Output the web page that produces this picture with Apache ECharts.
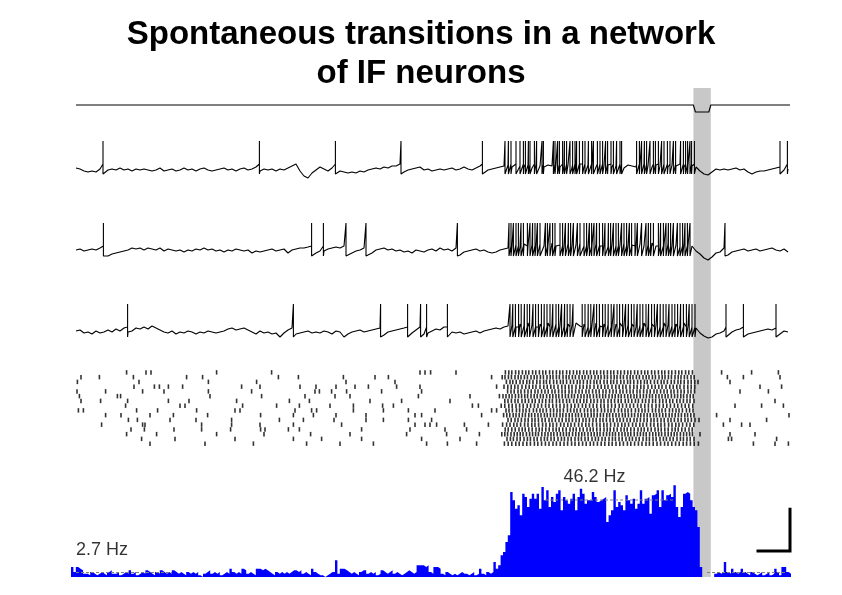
<!DOCTYPE html>
<html><head><meta charset="utf-8">
<script src="https://cdn.jsdelivr.net/npm/echarts/dist/echarts.min.js"></script>
<style>html,body{margin:0;padding:0;background:#fff}#c{width:842px;height:595px}</style>
</head><body><div id="c"></div>
<script>
// ---------- data (time in ms, membrane potential in mV, rate in Hz) ----------
const timeRange = [0, 3570];
const stimOn = 3087, stimOff = 3174;
const stimT = [0, 3087, 3097, 3164, 3174, 3570];
const stimV = [0, 0, -1, -1, 0, 0];

const stepMs = 20; // sampling step of the sub-threshold traces
const trace1Base = [
-54,-56,-60,-62,-60,-62,-56,-62,-58,-56,
-58,-54,-58,-56,-60,-56,-58,-56,-58,-60,
-58,-54,-60,-58,-56,-60,-58,-54,-58,-56,
-60,-56,-54,-58,-60,-58,-56,-54,-58,-56,
-60,-56,-54,-58,-56,-52,-60,-56,-58,-56,
-60,-56,-58,-54,-50,-46,-60,-70,-74,-64,
-58,-52,-56,-60,-54,-62,-60,-62,-64,-62,
-64,-60,-62,-58,-56,-54,-56,-52,-54,-50,
-50,-46,-62,-58,-56,-54,-52,-58,-56,-60,
-58,-56,-58,-56,-54,-58,-56,-52,-56,-58,
-54,-50,-62,-58,-56,-54,-52,-50,-48,-52,
-46,-50,-52,-48,-54,-46,-50,-52,-48,-50,
-46,-52,-50,-48,-54,-50,-46,-52,-48,-50,
-52,-46,-50,-48,-52,-50,-46,-54,-48,-50,
-52,-48,-46,-50,-52,-48,-50,-46,-52,-48,
-50,-46,-52,-48,-50,-52,-60,-66,-68,-62,
-56,-58,-56,-58,-56,-54,-58,-56,-62,-66,
-62,-60,-60,-58,-56,-54,-52,-58,-56];
const trace1Spikes = [135,917,1297,1625,2032,
2145,2162,2175,2200,2220,2237,2247,2262,2270,2292,2303,2330,2337,2387,2395,2408,2417,2433,2442,2453,
2470,2483,2495,2503,2517,2533,2545,2562,2578,2587,2607,2620,2633,2648,2658,2675,2687,2703,2720,2728,
2803,2817,2828,2842,2853,2870,2887,2897,2912,2928,2940,2957,2970,2987,2998,3023,3037,3048,3058,3070,
3078,3092,3520,3557];

const trace2Base = [
-54,-52,-56,-54,-52,-54,-50,-68,-66,-62,
-60,-58,-56,-54,-50,-52,-50,-54,-50,-52,
-54,-50,-56,-52,-54,-56,-54,-58,-54,-56,
-52,-54,-50,-54,-52,-56,-54,-58,-54,-56,
-52,-54,-56,-54,-60,-56,-58,-56,-54,-52,
-56,-54,-52,-60,-54,-52,-50,-50,-48,-62,
-60,-56,-56,-52,-50,-48,-50,-46,-64,-60,
-56,-54,-50,-68,-60,-54,-52,-50,-54,-52,
-56,-54,-58,-56,-60,-54,-56,-58,-54,-52,
-56,-50,-54,-52,-56,-50,-64,-58,-56,-54,
-52,-56,-54,-58,-60,-58,-54,-52,-50,-46,
-44,-48,-42,-46,-44,-48,-42,-46,-44,-40,
-46,-44,-48,-42,-46,-44,-40,-46,-48,-44,
-42,-46,-44,-48,-42,-46,-44,-40,-46,-44,
-48,-42,-46,-44,-40,-46,-48,-44,-42,-46,
-44,-48,-42,-46,-46,-56,-62,-70,-74,-68,
-60,-58,-50,-64,-58,-56,-54,-52,-56,-54,
-52,-56,-54,-52,-50,-54,-56,-52,-58];
const trace2Spikes = [137,1178,1237,1350,1450,1907,
2165,2175,2187,2200,2212,2225,2237,2257,2270,2283,2295,2307,2320,2347,2357,2370,2383,2395,2420,2433,
2447,2462,2473,2487,2507,2520,2540,2553,2567,2578,2590,2603,2617,2633,2645,2662,2673,2687,2700,2712,
2728,2740,2753,2767,2778,2795,2807,2828,2850,2862,2873,2887,2912,2923,2937,2950,2962,2973,2987,3007,
3020,3033,3045,3057,3070,3245];

const trace3Base = [
-54,-52,-58,-56,-60,-54,-58,-56,-52,-56,
-50,-54,-48,-56,-54,-48,-50,-46,-50,-44,
-48,-52,-56,-58,-54,-60,-56,-58,-54,-56,
-60,-56,-58,-54,-56,-58,-56,-54,-50,-48,
-52,-50,-48,-52,-56,-60,-54,-58,-56,-60,
-58,-66,-58,-52,-48,-60,-58,-56,-54,-58,
-56,-58,-54,-56,-60,-54,-56,-66,-60,-56,
-54,-52,-56,-54,-52,-50,-48,-62,-56,-54,
-52,-50,-48,-68,-58,-52,-46,-60,-58,-54,
-50,-52,-46,-62,-56,-58,-56,-60,-58,-56,
-54,-58,-54,-52,-50,-48,-50,-46,-44,-42,
-46,-40,-44,-38,-42,-46,-40,-44,-38,-42,
-40,-44,-46,-40,-42,-38,-44,-40,-46,-42,
-38,-44,-40,-42,-46,-40,-38,-44,-42,-40,
-46,-42,-38,-44,-40,-42,-46,-38,-42,-44,
-40,-42,-38,-44,-46,-48,-58,-64,-68,-66,
-60,-58,-54,-64,-56,-52,-50,-62,-60,-58,
-56,-54,-52,-50,-52,-48,-60,-54,-56];
const trace3Spikes = [258,1087,1523,1658,1723,1753,1857,
2170,2184,2197,2213,2226,2242,2256,2268,2285,2298,2312,2327,2341,2355,2370,2384,2400,2413,2428,2443,
2456,2470,2485,2531,2545,2561,2574,2590,2603,2617,2633,2646,2661,2676,2690,2705,2718,2733,2748,2762,
2777,2790,2806,2820,2834,2850,2863,2878,2892,2907,2921,2936,2950,2965,2980,2994,3008,3023,3037,3052,
3066,3080,3095,3250,3337,3500];

const spikeThr = -46, spikePeak = 0, spikeReset = -66;

// raster: spike times (ms) for each of 16 neurons, top to bottom
const rasterSpikes = [
[253,350,375,703,978,1720,1745,1773,1900,2147,2164,2179,2198,2214,2232,2249,2264,2283,2299,2317,2334,2349,2368,2384,2402,2419,2434,2453,2469,2487,2504,2519,2538,2554,2572,2589,2604,2623,2639,2657,2674,2689,2708,2724,2742,2759,2774,2793,2809,2827,2844,2859,2878,2894,2912,2929,2944,2963,2979,2997,3014,3029,3048,3064,3082,3228,3378,3512],
[25,117,287,553,633,1012,1112,1337,1495,1562,2078,2131,2145,2162,2177,2195,2211,2225,2242,2257,2275,2291,2305,2322,2337,2355,2371,2385,2402,2417,2435,2451,2465,2482,2497,2515,2531,2545,2562,2577,2595,2611,2625,2642,2657,2675,2691,2705,2722,2737,2755,2771,2785,2802,2817,2835,2851,2865,2882,2897,2915,2931,2945,2962,2977,2995,3011,3025,3042,3057,3075,3091,3257,3337,3520],
[7,315,662,903,1350,1595,2152,2170,2184,2201,2220,2236,2254,2268,2285,2304,2320,2338,2352,2369,2388,2404,2422,2436,2453,2472,2488,2506,2520,2537,2556,2572,2590,2604,2621,2640,2656,2674,2688,2705,2724,2740,2758,2772,2789,2808,2824,2842,2856,2873,2892,2908,2926,2940,2957,2976,2992,3010,3024,3041,3060,3076,3094,3110,3270],
[290,392,417,462,533,828,920,1120,1200,1300,1395,1462,1603,1720,2103,2140,2159,2176,2194,2210,2230,2249,2266,2284,2300,2320,2339,2356,2374,2390,2410,2429,2446,2464,2480,2500,2519,2536,2554,2570,2590,2609,2626,2644,2660,2680,2699,2716,2734,2750,2770,2789,2806,2824,2840,2860,2879,2896,2914,2930,2950,2969,2986,3004,3020,3040,3059,3076,3094,3420,3528],
[5,148,333,440,662,878,1195,1217,1278,1353,1528,1728,2158,2175,2191,2210,2225,2243,2260,2276,2295,2310,2328,2345,2361,2380,2395,2413,2430,2446,2465,2480,2498,2515,2531,2550,2565,2583,2600,2616,2635,2650,2668,2685,2701,2720,2735,2753,2770,2786,2805,2820,2838,2855,2871,2890,2905,2923,2940,2956,2975,2990,3008,3025,3041,3060,3075,3093,3320,3462],
[17,207,223,670,928,1145,1295,1370,1712,1970,2117,2135,2150,2166,2180,2197,2213,2228,2244,2258,2275,2291,2306,2322,2336,2353,2369,2384,2400,2414,2431,2447,2462,2478,2492,2509,2525,2540,2556,2570,2587,2603,2618,2634,2648,2665,2681,2696,2712,2726,2743,2759,2774,2790,2804,2821,2837,2852,2868,2882,2899,2915,2930,2946,2960,2977,2993,3008,3024,3038,3055,3071,3086],
[25,123,258,462,565,803,1067,1167,1470,1628,1870,2144,2160,2177,2195,2210,2230,2246,2263,2281,2296,2316,2332,2349,2367,2382,2402,2418,2435,2453,2468,2488,2504,2521,2539,2554,2574,2590,2607,2625,2640,2660,2676,2693,2711,2726,2746,2762,2779,2797,2812,2832,2848,2865,2883,2898,2918,2934,2951,2969,2984,3004,3020,3037,3055,3070,3090,3495],
[248,520,545,833,1003,1117,1270,1387,1533,1587,1982,2012,2126,2144,2164,2181,2200,2218,2236,2256,2273,2292,2310,2328,2348,2365,2384,2402,2420,2440,2457,2476,2494,2512,2532,2549,2568,2586,2604,2624,2641,2660,2678,2696,2716,2733,2752,2770,2788,2808,2825,2844,2862,2880,2900,2917,2936,2954,2972,2992,3009,3028,3046,3064,3084,3295,3428,3537],
[12,37,303,408,603,795,820,1095,1178,1203,1387,1537,1662,1795,2078,2103,2150,2165,2182,2202,2218,2235,2250,2267,2287,2303,2320,2335,2352,2372,2388,2405,2420,2437,2457,2473,2490,2505,2522,2542,2558,2575,2590,2607,2627,2643,2660,2675,2692,2712,2728,2745,2760,2777,2797,2813,2830,2845,2862,2882,2898,2915,2930,2947,2967,2983,3000,3015,3032,3052,3068,3085],
[148,225,370,487,658,923,1087,1187,1300,1450,1695,1728,2028,2138,2154,2169,2186,2200,2216,2232,2247,2264,2278,2294,2310,2325,2342,2356,2372,2388,2403,2420,2434,2450,2466,2481,2498,2512,2528,2544,2559,2576,2590,2606,2622,2637,2654,2668,2684,2700,2715,2732,2746,2762,2778,2793,2810,2824,2840,2856,2871,2888,2902,2918,2934,2949,2966,2980,2996,3012,3027,3044,3058,3074,3090,3203,3565],
[262,307,470,600,778,1017,1137,1290,1450,1537,1662,1778,2160,2176,2195,2210,2227,2245,2261,2280,2295,2312,2330,2346,2365,2380,2397,2415,2431,2450,2465,2482,2500,2516,2535,2550,2567,2585,2601,2620,2635,2652,2670,2686,2705,2720,2737,2755,2771,2790,2805,2822,2840,2856,2875,2890,2907,2925,2941,2960,2975,2992,3010,3026,3045,3060,3077,3095,3115,3270,3453],
[128,333,345,628,778,920,1087,1328,1695,1745,1770,1803,1942,2062,2133,2153,2170,2189,2205,2223,2243,2260,2279,2295,2313,2333,2350,2369,2385,2403,2423,2440,2459,2475,2493,2513,2530,2549,2565,2583,2603,2620,2639,2655,2673,2693,2710,2729,2745,2763,2783,2800,2819,2835,2853,2873,2890,2909,2925,2943,2963,2980,2999,3015,3033,3053,3070,3089,3237,3328,3370],
[275,342,490,628,773,923,945,1062,1117,1428,1670,1845,1953,2146,2161,2179,2196,2215,2231,2246,2264,2281,2300,2316,2331,2349,2366,2385,2401,2416,2434,2451,2470,2486,2501,2519,2536,2555,2571,2586,2604,2621,2640,2656,2671,2689,2706,2725,2741,2756,2774,2791,2810,2826,2841,2859,2876,2895,2911,2926,2944,2961,2980,2996,3011,3029,3046,3065,3081],
[253,403,703,940,1173,1370,1653,1853,2017,2129,2144,2158,2175,2191,2206,2221,2235,2252,2268,2283,2298,2312,2329,2345,2360,2375,2389,2406,2422,2437,2452,2466,2483,2499,2514,2529,2543,2560,2576,2591,2606,2620,2637,2653,2668,2683,2697,2714,2730,2745,2760,2774,2791,2807,2822,2837,2851,2868,2884,2899,2914,2928,2945,2961,2976,2991,3005,3022,3038,3053,3068,3082,3120,3270,3395],
[328,495,795,1087,1228,1428,1728,1920,2155,2172,2187,2205,2221,2240,2257,2272,2290,2306,2325,2342,2357,2375,2391,2410,2427,2442,2460,2476,2495,2512,2527,2545,2561,2580,2597,2612,2630,2646,2665,2682,2697,2715,2731,2750,2767,2782,2800,2816,2835,2852,2867,2885,2901,2920,2937,2952,2970,2986,3005,3022,3037,3055,3071,3090,3262,3278,3503],
[370,645,887,1153,1320,1487,1753,1857,2003,2142,2161,2179,2199,2216,2235,2254,2272,2292,2309,2328,2347,2365,2385,2402,2421,2440,2458,2478,2495,2514,2533,2551,2571,2588,2607,2626,2644,2664,2681,2700,2719,2737,2757,2774,2793,2812,2830,2850,2867,2886,2905,2923,2943,2960,2979,2998,3016,3036,3053,3072,3091,3112,3387,3495,3562]
];

// population rate histogram (Hz), 12 ms bins starting at -25 ms
const histStart = -25, histBinMs = 12;
const histRate = [
6,3,6,5,4,2,2,1,3,2, 1,2,3,2,1,3,4,2,2,3, 1,2,3,2,4,2,3,1,2,3, 2,4,3,2,1,3,2,4,3,2,
3,2,4,3,2,3,2,1,3,2, 3,2,3,1,0,2,3,4,2,3, 2,3,1,2,3,2,5,3,2,3, 2,5,4,2,3,2,1,5,5,4,
5,4,3,2,1,3,2,3,2,3, 2,3,4,4,3,4,2,3,2,1, 5,3,2,1,1,0,1,2,3,3, 10,2,5,5,4,3,2,3,2,1,
3,4,4,2,3,2,3,1,2,4, 3,2,3,4,2,3,2,1,2,3, 4,3,2,3,7,7,7,6,7,3, 2,6,6,5,2,1,3,2,1,2,
1,2,3,2,2,1,2,3,1,2, 5,2,1,3,2,3,
9,5,7,13,15,21,25,
51,46,41,43,37,50,48,42,47,50, 47,50,41,54,46,52,42,48,45,50, 52,40,48,46,44,47,50,40,48,53,
50,44,46,46,51,48,45,46,47,48, 33,37,40,52,42,45,43,40,49,46, 44,47,41,44,52,44,47,48,38,49,
50,52,42,52,46,49,50,48,55,42, 36,42,50,51,50,46,42,40,30,6,
0,0,0,0,0,
2,3,2,3,9,3,2,5,3,2, 3,5,3,2,1,3,2,1,2,3, 1,2,3,1,2,5,3,1,6,6,3,2];

// mean-rate reference levels
const rateLevels = [2.7, 46.2, 2.7];
const rateFrom = [0, 2345, 3155];
const rateTo = [480, 2985, 3555];
const rateLabels = ['2.7 Hz', '46.2 Hz'];
const rateLabelT = [0, 2592];
const rateLabelHz = [16.2, 60];

// scale bar: 160 ms x 25 Hz
const scaleMs = 160, scaleHz = 25, scaleEndT = 3570, scaleBaseHz = 15.6;

// ---------- build ----------
function buildTrace(base, spikes) {
  const pts = base.map((v, i) => ({t: i * stepMs, o: 0, v}));
  spikes.forEach(t => {
    pts.push({t, o: 1, v: spikeThr}, {t, o: 2, v: spikePeak}, {t, o: 3, v: spikeReset});
  });
  pts.sort((a, b) => a.t - b.t || a.o - b.o);
  return pts.map(p => [p.t, p.v]);
}
const rasterData = [];
rasterSpikes.forEach((row, r) => row.forEach(t => rasterData.push([t, r])));
const histData = histRate.map((v, i) => [histStart + i * histBinMs, v]);
histData.push([histStart + histRate.length * histBinMs, histRate[histRate.length - 1]]);

const FONT = '"Liberation Sans", Arial, sans-serif';
const L = 76, W = 714;
const grids = [
  {left: L, width: W, top: 88, height: 489},   // stimulus band
  {left: L, width: W, top: 105, height: 7},    // stimulus
  {left: L, width: W, top: 141, height: 40},   // trace 1
  {left: L, width: W, top: 223, height: 40},   // trace 2
  {left: L, width: W, top: 304, height: 40},   // trace 3
  {left: L, width: W, top: 370, height: 76},   // raster
  {left: 71, width: 720, top: 477, height: 100} // histogram
];
const xAxes = grids.map((g, i) => ({
  type: 'value', gridIndex: i, show: false,
  min: i === 6 ? histStart : timeRange[0],
  max: i === 6 ? histStart + histRate.length * histBinMs : timeRange[1]
}));
const yAxes = [
  {min: 0, max: 1},
  {min: -1, max: 0},
  {min: -80, max: 0},
  {min: -80, max: 0},
  {min: -80, max: 0},
  {min: -0.5, max: 15.5, inverse: true},
  {min: 0, max: 60}
].map((a, i) => Object.assign({type: 'value', gridIndex: i, show: false}, a));

const lineBase = {type: 'line', showSymbol: false, symbol: 'none', clip: false, silent: true};
const traceSeries = (data, gi) => Object.assign({}, lineBase, {
  xAxisIndex: gi, yAxisIndex: gi, data, z: 3,
  lineStyle: {color: '#000', width: 1.1}
});

const series = [
  Object.assign({}, lineBase, {
    xAxisIndex: 0, yAxisIndex: 0, data: [[stimOn, 0]], z: 0,
    lineStyle: {opacity: 0},
    markArea: {silent: true, itemStyle: {color: '#c8c8c8'},
      data: [[{xAxis: stimOn}, {xAxis: stimOff}]]}
  }),
  traceSeries(stimT.map((t, i) => [t, stimV[i]]), 1),
  traceSeries(buildTrace(trace1Base, trace1Spikes), 2),
  traceSeries(buildTrace(trace2Base, trace2Spikes), 3),
  traceSeries(buildTrace(trace3Base, trace3Spikes), 4),
  {type: 'scatter', xAxisIndex: 5, yAxisIndex: 5, data: rasterData, symbol: 'rect',
   symbolSize: [1.6, 4.5], itemStyle: {color: '#000'}, silent: true, z: 3},
  Object.assign({}, lineBase, {
    xAxisIndex: 6, yAxisIndex: 6, data: histData, step: 'end', z: 2,
    lineStyle: {width: 0, color: '#0000ff'},
    areaStyle: {color: '#0000ff', opacity: 1}
  })
];
rateLevels.forEach((lv, k) => {
  series.push(Object.assign({}, lineBase, {
    xAxisIndex: 6, yAxisIndex: 6, z: 4,
    data: [[rateFrom[k], lv], [rateTo[k], lv]],
    lineStyle: {color: '#808080', width: 1, type: [3, 2]}
  }));
});
series.push(Object.assign({}, lineBase, {
  xAxisIndex: 6, yAxisIndex: 6, z: 5,
  data: [[scaleEndT - scaleMs, scaleBaseHz], [scaleEndT, scaleBaseHz], [scaleEndT, scaleBaseHz + scaleHz]],
  lineStyle: {color: '#000', width: 3, cap: 'square', join: 'miter'}
}));
series.push({
  type: 'scatter', xAxisIndex: 6, yAxisIndex: 6, z: 6, silent: true, symbolSize: 0,
  data: rateLabels.map((s, k) => ({
    value: [rateLabelT[k], rateLabelHz[k]],
    label: {show: true, formatter: s, position: [0, 0],
      align: k === 0 ? 'left' : 'center', verticalAlign: 'middle',
      color: '#000', fontSize: 18, fontFamily: FONT}
  }))
});

const chart = echarts.init(document.getElementById('c'), null, {renderer: 'canvas'});
chart.setOption({
  animation: false,
  backgroundColor: '#fff',
  title: {
    text: 'Spontaneous transitions in a network\nof IF neurons',
    left: 'center', top: 10,
    textStyle: {fontSize: 33, fontWeight: 'bold', fontFamily: FONT, color: '#000', lineHeight: 39}
  },
  grid: grids,
  xAxis: xAxes,
  yAxis: yAxes,
  series
});
</script>
</body></html>
